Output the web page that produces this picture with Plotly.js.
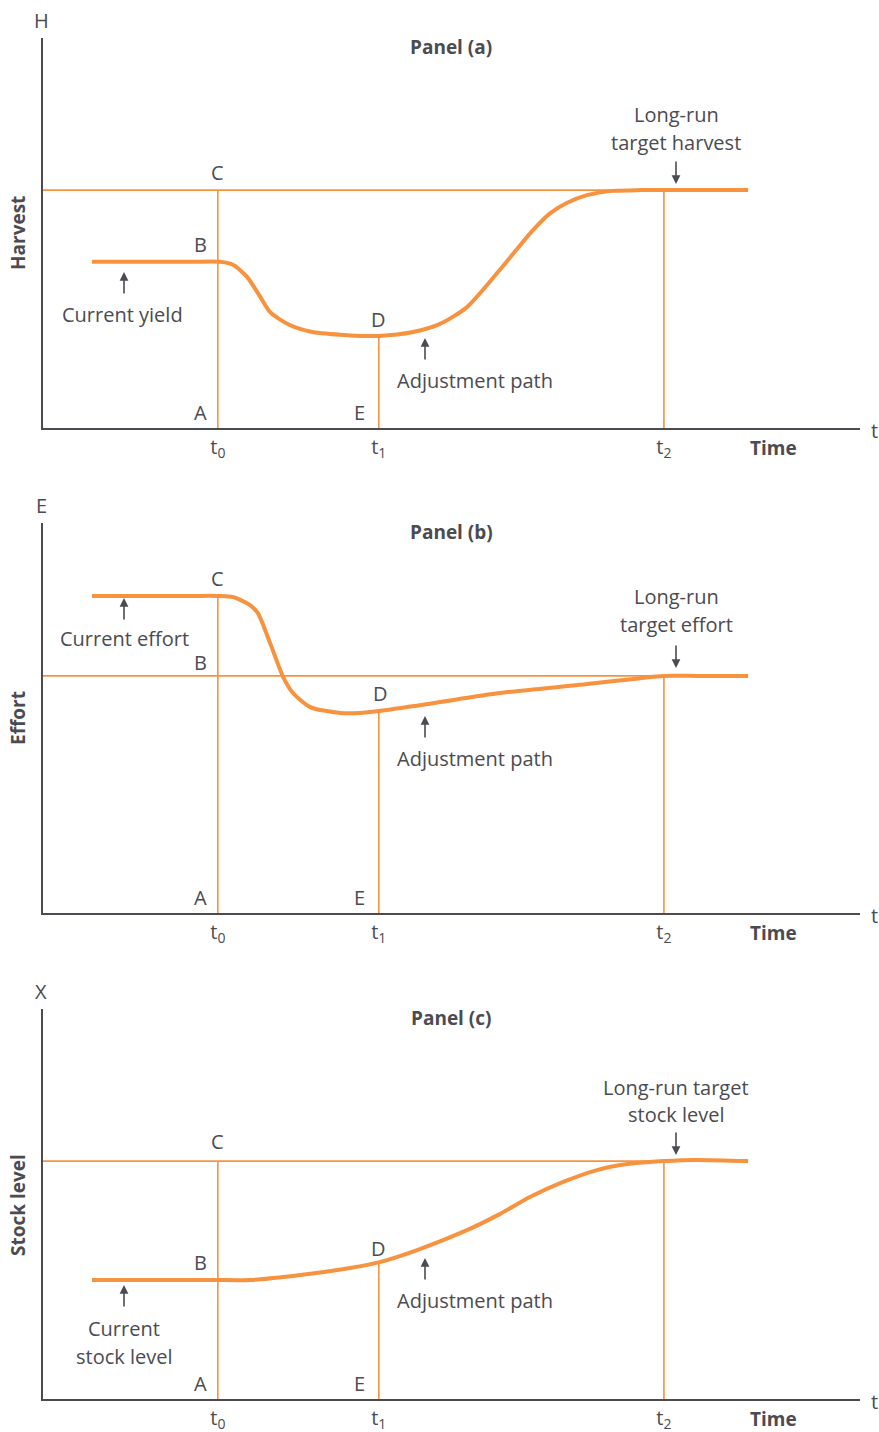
<!DOCTYPE html>
<html>
<head>
<meta charset="utf-8">
<script src="https://cdn.plot.ly/plotly-3.0.1.min.js"></script>
<style>html,body{margin:0;padding:0;background:#fff}#chart{width:879px;height:1432px}</style>
</head>
<body>
<div id="chart"></div>
<script>
// ---------- DATA (time on 0-100 scale, levels on 0-100 scale) ----------
const tickTimes = [21.4, 41.1, 76.0];
const tickLabels = ['t<sub>0</sub>', 't<sub>1</sub>', 't<sub>2</sub>'];
const pathStart = 6.0;
const pathEnd = 86.3;

// Panel (a) Harvest
const harvestTime  = [6.0, 18.0, 21.7, 23.3, 25.0, 26.6, 27.8, 30.2, 33.0, 37.2, 41.1, 45.3, 48.6, 51.9, 55.9, 60.0, 62.1, 64.1, 66.6, 69.8, 73.1, 76.0, 86.3];
const harvestValue = [42.6, 42.6, 42.6, 41.8, 38.7, 33.6, 29.7, 26.4, 24.6, 23.8, 23.6, 24.6, 26.7, 31.0, 40.5, 50.8, 55.1, 57.7, 59.7, 60.8, 61.0, 61.0, 61.0];
const harvestCurrent = 42.6, harvestTarget = 61.0, harvestAtT1 = 23.6;

// Panel (b) Effort
const effortTime  = [6.0, 18.0, 21.4, 23.3, 25.3, 26.3, 27.8, 29.4, 30.6, 32.7, 36.4, 38.8, 41.1, 47.7, 55.9, 65.7, 76.0, 80.0, 86.3];
const effortValue = [81.3, 81.3, 81.3, 81.0, 79.0, 76.9, 69.2, 60.5, 56.4, 52.8, 51.3, 51.3, 51.8, 53.8, 56.4, 58.5, 60.8, 60.8, 60.8];
const effortCurrent = 81.3, effortTarget = 60.8, effortAtT1 = 51.8;

// Panel (c) Stock level
const stockTime  = [6.0, 18.0, 21.4, 25.3, 31.5, 37.6, 41.2, 45.8, 51.9, 55.9, 59.6, 63.6, 67.8, 71.8, 76.0, 80.0, 86.3];
const stockValue = [30.5, 30.5, 30.5, 30.5, 31.8, 33.6, 35.1, 38.2, 43.3, 47.4, 51.8, 55.6, 58.7, 60.3, 61.0, 61.3, 61.0];
const stockCurrent = 30.5, stockTarget = 61.0, stockAtT1 = 35.1;

// ---------- STYLE ----------
const W = 879, H = 1432;
const ORANGE = '#f7923f';
const GREY = '#4b4b51';
const FONT = '"Open Sans", "Noto Sans", sans-serif';

function P(x, y) { return {x: x / W, y: 1 - y / H, xref: 'paper', yref: 'paper'}; }
function label(x, y, text, extra) {
  return Object.assign(P(x, y), {text: text, showarrow: false, xanchor: 'center', yanchor: 'middle',
    font: {family: FONT, size: 20, color: GREY}}, extra || {});
}
function arrow(x, yTip, dy) {
  return Object.assign(P(x, yTip), {text: '', showarrow: true, ax: 0, ay: dy,
    arrowhead: 2, arrowsize: 1.1, arrowwidth: 1.6, arrowcolor: GREY});
}

const traces = [];
function panel(xa, ya, t, v, current, target, atT1) {
  const top = Math.max(current, target);
  // thin reference lines
  traces.push({x: [0, pathEnd], y: [target, target], xaxis: xa, yaxis: ya, mode: 'lines',
    line: {color: ORANGE, width: 1.6}, hoverinfo: 'skip'});
  traces.push({x: [tickTimes[0], tickTimes[0]], y: [0, top], xaxis: xa, yaxis: ya, mode: 'lines',
    line: {color: ORANGE, width: 1.6}, hoverinfo: 'skip'});
  traces.push({x: [tickTimes[1], tickTimes[1]], y: [0, atT1], xaxis: xa, yaxis: ya, mode: 'lines',
    line: {color: ORANGE, width: 1.6}, hoverinfo: 'skip'});
  traces.push({x: [tickTimes[2], tickTimes[2]], y: [0, target], xaxis: xa, yaxis: ya, mode: 'lines',
    line: {color: ORANGE, width: 1.6}, hoverinfo: 'skip'});
  // adjustment path
  traces.push({x: t, y: v, xaxis: xa, yaxis: ya, mode: 'lines',
    line: {color: ORANGE, width: 4, shape: 'spline', smoothing: 0.7}, hoverinfo: 'skip'});
}
panel('x', 'y', harvestTime, harvestValue, harvestCurrent, harvestTarget, harvestAtT1);
panel('x2', 'y2', effortTime, effortValue, effortCurrent, effortTarget, effortAtT1);
panel('x3', 'y3', stockTime, stockValue, stockCurrent, stockTarget, stockAtT1);

const xDomain = [43 / W, 860 / W];
function xAxis(anchor) {
  return {domain: xDomain, range: [0, 100], anchor: anchor, showgrid: false, zeroline: false,
    showline: true, linecolor: GREY, linewidth: 2, ticks: '', tickvals: tickTimes, ticktext: tickLabels,
    tickfont: {family: FONT, size: 20, color: GREY}, fixedrange: true};
}
function yAxis(anchor, bottomPx, topPx) {
  return {domain: [1 - bottomPx / H, 1 - topPx / H], range: [0, 100], anchor: anchor, showgrid: false,
    zeroline: false, showline: true, linecolor: GREY, linewidth: 2, ticks: '', showticklabels: false, fixedrange: true};
}

const boldFont = {family: FONT, size: 19, color: GREY, weight: 'bold'};
const ann = [];
const panels = [
  {off: 0, axis: 'H', title: 'Panel (a)', name: 'Harvest', nameY: 233},
  {off: 485, axis: 'E', title: 'Panel (b)', name: 'Effort', nameY: 718},
  {off: 971, axis: 'X', title: 'Panel (c)', name: 'Stock level', nameY: 1205}
];
panels.forEach(p => {
  ann.push(label(41, 20 + p.off, p.axis));
  ann.push(label(451, 47 + p.off, '<b>' + p.title + '</b>', {font: boldFont}));
  ann.push(label(18, p.nameY, '<b>' + p.name + '</b>', {textangle: -90, font: boldFont}));
  ann.push(label(874, 430 + p.off, 't'));
  ann.push(label(773, 448 + p.off, '<b>Time</b>', {font: boldFont}));
  ann.push(label(200, 412 + p.off, 'A'));
  ann.push(label(359, 412 + p.off, 'E'));
  ann.push(label(475, (p.off === 0 ? 380 : p.off === 485 ? 758 : 1300), 'Adjustment path'));
});
// Panel (a)
ann.push(label(217, 173, 'C'), label(200, 245, 'B'), label(378, 319, 'D'));
ann.push(label(122, 315, 'Current yield'), arrow(124, 272, 23));
ann.push(arrow(425, 338, 23));
ann.push(label(676, 114, 'Long-run'), label(676, 142, 'target harvest'), arrow(676, 184, -24));
// Panel (b)
ann.push(label(217, 578, 'C'), label(200, 662, 'B'), label(380, 693, 'D'));
ann.push(label(124, 638, 'Current effort'), arrow(124, 598, 23));
ann.push(arrow(425, 716, 23));
ann.push(label(676, 597, 'Long-run'), label(676, 624, 'target effort'), arrow(676, 668, -24));
// Panel (c)
ann.push(label(217, 1141, 'C'), label(200, 1262, 'B'), label(378, 1248, 'D'));
ann.push(label(124, 1328, 'Current'), label(124, 1356, 'stock level'), arrow(124, 1285, 23));
ann.push(arrow(425, 1258, 23));
ann.push(label(676, 1087, 'Long-run target'), label(676, 1114, 'stock level'), arrow(676, 1155, -24));

const layout = {
  width: W, height: H, margin: {l: 0, r: 0, t: 0, b: 0},
  paper_bgcolor: '#ffffff', plot_bgcolor: 'rgba(0,0,0,0)', showlegend: false,
  font: {family: FONT, color: GREY},
  xaxis: xAxis('y'), yaxis: yAxis('x', 428, 38),
  xaxis2: xAxis('y2'), yaxis2: yAxis('x2', 913, 523),
  xaxis3: xAxis('y3'), yaxis3: yAxis('x3', 1399, 1009),
  annotations: ann
};
Plotly.newPlot('chart', traces, layout, {displayModeBar: false, staticPlot: true});
</script>
</body>
</html>
